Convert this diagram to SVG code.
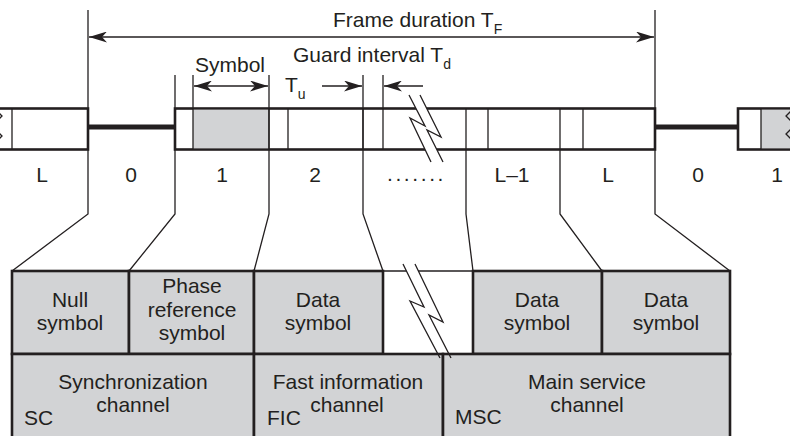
<svg xmlns="http://www.w3.org/2000/svg" width="790" height="436" viewBox="0 0 790 436">
<defs>
<marker id="ah" markerUnits="userSpaceOnUse" markerWidth="19" markerHeight="11" refX="18" refY="5.5" orient="auto-start-reverse" viewBox="0 0 19 11"><path d="M0,0 L18,5.5 L0,11 L5,5.5 Z" fill="#231f20"/></marker>
</defs>
<style>
.t{font-family:"Liberation Sans",Arial,sans-serif;font-size:21px;fill:#231f20}
.m{text-anchor:middle}
.sub{font-size:14px}
.thin{fill:none;stroke:#231f20;stroke-width:1.3}
.box{stroke:#231f20;stroke-width:2.6}
.bar{stroke:#231f20;stroke-width:5}
.g{fill:#d2d3d5}
.w{fill:#fff}
</style>
<rect width="790" height="436" fill="#fff"/>

<!-- transmission frame strip -->
<g id="strip-prev">
  <rect class="w box" x="-4" y="108.5" width="92" height="41"/>
  <line class="thin" x1="12" y1="108.5" x2="12" y2="149.5"/>
  <polyline class="thin" points="-4,110 2,116 -4,122 -4,130 2,136 -4,142"/>
  <text class="t m" x="42" y="182">L</text>
</g>
<g id="null-gap-left">
  <line class="bar" x1="88" y1="127" x2="175" y2="127"/>
  <text class="t m" x="131" y="182">0</text>
</g>
<g id="strip-frame">
  <rect class="w box" x="175" y="108.5" width="480" height="41"/>
  <rect class="g" x="193" y="109.8" width="76" height="38.4"/>
  <g class="thin">
    <line x1="193" y1="108.5" x2="193" y2="149.5"/>
    <line x1="269" y1="108.5" x2="269" y2="149.5"/>
    <line x1="288" y1="108.5" x2="288" y2="149.5"/>
    <line x1="363" y1="108.5" x2="363" y2="149.5"/>
    <line x1="383" y1="108.5" x2="383" y2="149.5"/>
    <line x1="466" y1="108.5" x2="466" y2="149.5"/>
    <line x1="488" y1="108.5" x2="488" y2="149.5"/>
    <line x1="560" y1="108.5" x2="560" y2="149.5"/>
    <line x1="583" y1="108.5" x2="583" y2="149.5"/>
  </g>
  <polygon class="w" points="409,95 425,126 410,118 431,162 443,162 427,130 441,137 420,95"/>
  <polyline class="thin" points="409,95 425,126 410,118 431,162"/>
  <polyline class="thin" points="420,95 441,137 427,130 443,162"/>
  <text class="t m" x="222" y="182">1</text>
  <text class="t m" x="315" y="182">2</text>
  <text class="t" x="387" y="181" style="letter-spacing:2.6px">.......</text>
  <text class="t m" x="512" y="182">L–1</text>
  <text class="t m" x="608" y="182">L</text>
</g>
<g id="null-gap-right">
  <line class="bar" x1="655" y1="127" x2="738" y2="127"/>
  <text class="t m" x="698" y="182">0</text>
</g>
<g id="strip-next">
  <rect class="w box" x="738" y="108.5" width="60" height="41"/>
  <rect class="g" x="761" y="109.8" width="35" height="38.4"/>
  <line class="thin" x1="761" y1="108.5" x2="761" y2="149.5"/>
  <polyline class="thin" points="792,110 786,116 792,122 792,128 786,134 792,140"/>
  <text class="t m" x="777" y="182">1</text>
</g>

<!-- dimension labels -->
<g id="frame-duration">
  <text class="t" x="333" y="27">Frame duration T<tspan class="sub" dy="7">F</tspan></text>
</g>
<g id="guard-interval">
  <text class="t" x="293" y="62">Guard interval T<tspan class="sub" dy="7">d</tspan></text>
</g>
<g id="symbol-label">
  <text class="t" x="195" y="72">Symbol</text>
</g>
<g id="tu-label">
  <text class="t" x="285" y="92">T<tspan class="sub" dy="7">u</tspan></text>
</g>

<!-- bottom structure -->
<g id="cell-null">
  <rect class="g box" x="12" y="271" width="117" height="83"/>
  <text class="t m" x="70" y="307">Null</text>
  <text class="t m" x="70" y="330">symbol</text>
</g>
<g id="cell-phase">
  <rect class="g box" x="129" y="271" width="125" height="83"/>
  <text class="t m" x="192" y="293">Phase</text>
  <text class="t m" x="192" y="317">reference</text>
  <text class="t m" x="192" y="340">symbol</text>
</g>
<g id="cell-data1">
  <rect class="g box" x="254" y="271" width="129" height="83"/>
  <text class="t m" x="318" y="307">Data</text>
  <text class="t m" x="318" y="330">symbol</text>
</g>
<g id="cell-gap">
  <line class="thin" x1="383" y1="271" x2="473" y2="271"/>
</g>
<g id="cell-data2">
  <rect class="g box" x="473" y="271" width="129" height="83"/>
  <text class="t m" x="537" y="307">Data</text>
  <text class="t m" x="537" y="330">symbol</text>
</g>
<g id="cell-data3">
  <rect class="g box" x="602" y="271" width="128" height="83"/>
  <text class="t m" x="666" y="307">Data</text>
  <text class="t m" x="666" y="330">symbol</text>
</g>
<g id="cell-sc">
  <rect class="g box" x="12" y="354" width="242" height="90"/>
  <text class="t m" x="133" y="389">Synchronization</text>
  <text class="t m" x="133" y="412">channel</text>
  <text class="t" x="24" y="425">SC</text>
</g>
<g id="cell-fic">
  <rect class="g box" x="254" y="354" width="189" height="90"/>
  <text class="t m" x="348" y="389">Fast information</text>
  <text class="t m" x="347" y="412">channel</text>
  <text class="t" x="267" y="425">FIC</text>
</g>
<g id="cell-msc">
  <rect class="g box" x="443" y="354" width="287" height="90"/>
  <text class="t m" x="587" y="389">Main service</text>
  <text class="t m" x="587" y="412">channel</text>
  <text class="t" x="455" y="424">MSC</text>
</g>
<g id="break-bottom">
  <polygon class="w" points="403,264 424,307 410,301 436.8,352 447.9,352 429,315 443,322 415,264"/>
  <polyline class="thin" points="403,264 424,307 410,301 440,358"/>
  <polyline class="thin" points="415,264 443,322 429,315 451,358"/>
</g>

<!-- connectors -->
<g id="connectors" class="thin">
  <polyline points="88,10 88,214 12,271"/>
  <polyline points="175,75 175,214 129,271"/>
  <polyline points="269,75 269,214 254,271"/>
  <polyline points="363,75 363,214 383,271"/>
  <polyline points="466,150 466,214 473,271"/>
  <polyline points="560,150 560,214 602,271"/>
  <polyline points="655,10 655,214 730,271"/>
  <line x1="193" y1="75" x2="193" y2="108"/>
  <line x1="383" y1="75" x2="383" y2="108"/>
  <line x1="89" y1="37" x2="654" y2="37" marker-start="url(#ah)" marker-end="url(#ah)"/>
  <line x1="194" y1="86" x2="268" y2="86" marker-start="url(#ah)" marker-end="url(#ah)"/>
  <line x1="322" y1="86" x2="362" y2="86" marker-end="url(#ah)"/>
  <line x1="423" y1="86" x2="384" y2="86" marker-end="url(#ah)"/>
</g>
</svg>
